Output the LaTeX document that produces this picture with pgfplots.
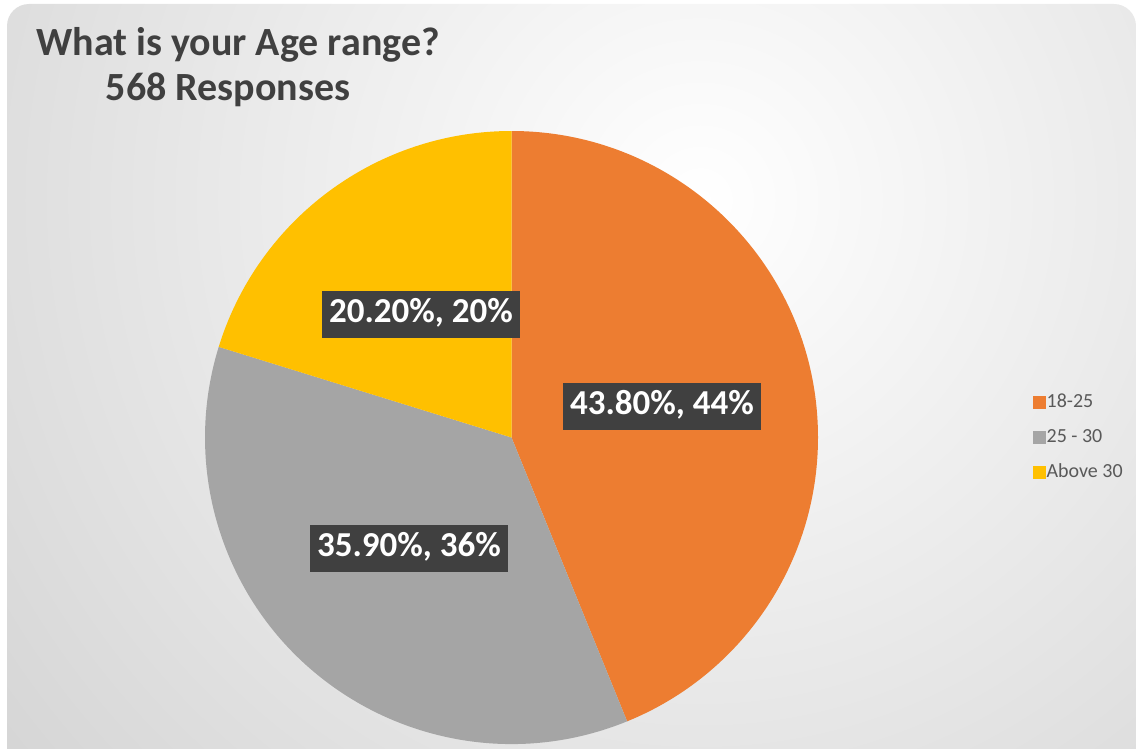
\documentclass[border=0pt]{standalone}
\usepackage{pgfplots}
\pgfplotsset{compat=1.18}
\usepackage{fontspec}
\setmainfont{Carlito}
\definecolor{cOrange}{HTML}{ED7D31}
\definecolor{cGray}{HTML}{A5A5A5}
\definecolor{cYellow}{HTML}{FFC000}
\definecolor{lblbg}{HTML}{404040}
\definecolor{titlec}{HTML}{404040}
\definecolor{legc}{HTML}{595959}
\definecolor{bgout}{HTML}{C0C0C0}
% data (percent)
\def\vA{43.8}  % 18-25
\def\vB{35.9}  % 25 - 30
\def\vC{20.2}  % Above 30
\pgfmathsetmacro{\tot}{\vA+\vB+\vC}
\pgfmathsetmacro{\aA}{90-\vA/\tot*360}
\pgfmathsetmacro{\aB}{\aA-\vB/\tot*360}
\pgfmathsetmacro{\aC}{-270}
\def\cx{511.5}\def\cy{437.5}\def\R{306.5pt}
\begin{document}
\begin{tikzpicture}
\begin{axis}[
  width=1138pt, height=749pt, scale only axis,
  xmin=0, xmax=1138, ymin=0, ymax=749, y dir=reverse,
  hide axis, clip=false,
  legend style={at={(axis cs:1033,437)}, anchor=west, draw=none, fill=none,
    font=\fontsize{20}{24}\selectfont, text=legc, row sep=15pt,
    inner sep=0pt, nodes={inner sep=1pt, text height=14pt, text depth=4pt},
    /tikz/every even column/.append style={column sep=4pt}},
  legend cell align=left,
]
\coordinate (bbBL) at (axis cs:0,749);
\coordinate (bbTR) at (axis cs:1138,0);
% background panel
\begin{scope}
  \clip (axis cs:7,749) -- (axis cs:7,24) [rounded corners=22pt] -- (axis cs:7,4) -- (axis cs:1136,4) [sharp corners] -- (axis cs:1136,749) -- cycle;
  \shade[overlay, inner color=white, outer color=bgout] (axis cs:700,200) circle (1350pt);
\end{scope}
% pie slices
\fill[cOrange] (axis cs:\cx,\cy) -- ++(90:\R) arc[start angle=90, end angle=\aA, radius=\R] -- cycle;
\fill[cGray] (axis cs:\cx,\cy) -- ++(\aA:\R) arc[start angle=\aA, end angle=\aB, radius=\R] -- cycle;
\fill[cYellow] (axis cs:\cx,\cy) -- ++(\aB:\R) arc[start angle=\aB, end angle=\aC, radius=\R] -- cycle;
% data labels
\tikzset{lbl/.style={fill=lblbg, text=white, font=\bfseries\fontsize{35}{40}\selectfont,
  inner xsep=7pt, inner ysep=8pt, text height=24pt, text depth=7pt}}
\node[lbl] at (axis cs:662,406) {43.80\%, 44\%};
\node[lbl] at (axis cs:421,314) {20.20\%, 20\%};
\node[lbl] at (axis cs:409,548) {35.90\%, 36\%};
% title
\node[text=titlec, font=\bfseries\fontsize{40}{48}\selectfont] at (axis cs:238,45) {What is your Age range?};
\node[text=titlec, font=\bfseries\fontsize{40}{48}\selectfont] at (axis cs:228,90) {568 Responses};
% legend
\addlegendimage{legend image code/.code={\fill[cOrange] (0pt,-6pt) rectangle (12pt,6pt);}}
\addlegendentry{18-25}
\addlegendimage{legend image code/.code={\fill[cGray] (0pt,-6pt) rectangle (12pt,6pt);}}
\addlegendentry{25 - 30}
\addlegendimage{legend image code/.code={\fill[cYellow] (0pt,-6pt) rectangle (12pt,6pt);}}
\addlegendentry{Above 30}
\end{axis}
\pgfresetboundingbox
\path[use as bounding box] (bbBL) rectangle (bbTR);
\end{tikzpicture}
\end{document}
